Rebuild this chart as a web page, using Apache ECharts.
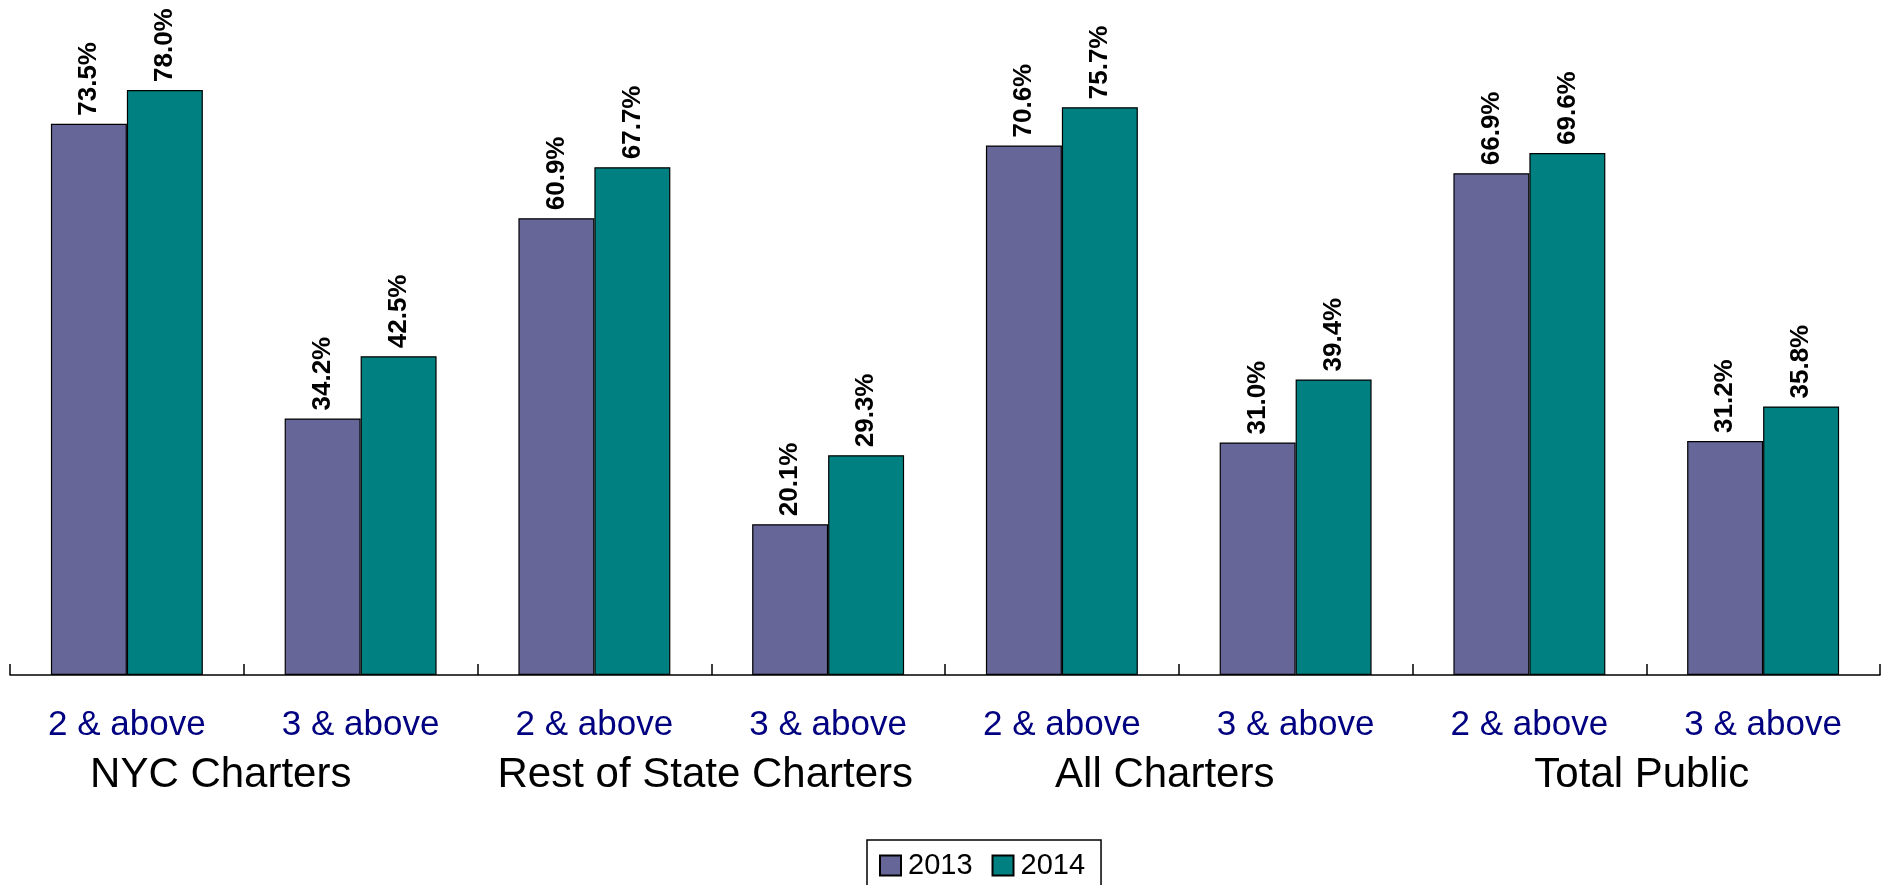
<!DOCTYPE html>
<html>
<head>
<meta charset="utf-8">
<script src="https://cdn.jsdelivr.net/npm/echarts@6/dist/echarts.min.js"></script>
<style>
html,body{margin:0;padding:0;background:#fff;}
#chart{width:1887px;height:885px;}
</style>
</head>
<body>
<div id="chart"></div>
<script>
const categories = ['2 & above','3 & above','2 & above','3 & above','2 & above','3 & above','2 & above','3 & above'];
const groups = ['NYC Charters','Rest of State Charters','All Charters','Total Public'];
const values2013 = [73.5, 34.2, 60.9, 20.1, 70.6, 31.0, 66.9, 31.2];
const values2014 = [78.0, 42.5, 67.7, 29.3, 75.7, 39.4, 69.6, 35.8];
const seriesNames = ['2013','2014'];

const groupPad = [46, 12, 28, 9];
const FONT = '"Liberation Sans", Arial, sans-serif';

const chart = echarts.init(document.getElementById('chart'), null, {renderer:'canvas'});

const labelCfg = {
  show: true,
  position: 'top',
  rotate: 90,
  align: 'left',
  verticalAlign: 'middle',
  distance: 8,
  fontFamily: FONT,
  fontWeight: 'bold',
  fontSize: 26,
  color: '#000',
  formatter: p => p.value.toFixed(1) + '%'
};

chart.setOption({
  animation: false,
  backgroundColor: '#fff',
  grid: {left: 10, right: 7, top: 0, bottom: 210, containLabel: false},
  legend: {
    data: seriesNames,
    icon: 'rect',
    left: 867,
    top: 840,
    orient: 'horizontal',
    borderColor: '#000',
    borderWidth: 1.5,
    padding: [11, 16, 11, 12],
    itemWidth: 21,
    itemHeight: 20,
    itemGap: 19,
    textStyle: {fontFamily: FONT, fontSize: 29, color: '#000', padding: [0, 0, 0, 2]}
  },
  xAxis: [
    {
      type: 'category',
      data: categories,
      position: 'bottom',
      axisLine: {show: true, lineStyle: {color: '#000', width: 1.5}},
      axisTick: {show: true, inside: true, length: 11, lineStyle: {color: '#000', width: 1.5}},
      axisLabel: {fontFamily: FONT, fontSize: 35, color: '#000080', margin: 33, interval: 0}
    },
    {
      type: 'category',
      data: groups.map((g, i) => ({value: g, textStyle: {padding: [0, groupPad[i], 0, 0]}})),
      position: 'bottom',
      axisLine: {show: false},
      axisTick: {show: false},
      axisLabel: {fontFamily: FONT, fontSize: 42, color: '#000', margin: 79, interval: 0}
    }
  ],
  yAxis: {type: 'value', min: 0, max: 90, show: false, splitLine: {show: false}},
  series: [
    {
      name: seriesNames[0], type: 'bar', xAxisIndex: 0, data: values2013,
      barWidth: '32.5%', barGap: '0%',
      itemStyle: {color: '#666699', borderColor: '#000', borderWidth: 1.2},
      label: labelCfg
    },
    {
      name: seriesNames[1], type: 'bar', xAxisIndex: 0, data: values2014,
      barWidth: '32.5%', barGap: '0%',
      itemStyle: {color: '#008080', borderColor: '#000', borderWidth: 1.2},
      label: labelCfg
    }
  ]
});
</script>
</body>
</html>
